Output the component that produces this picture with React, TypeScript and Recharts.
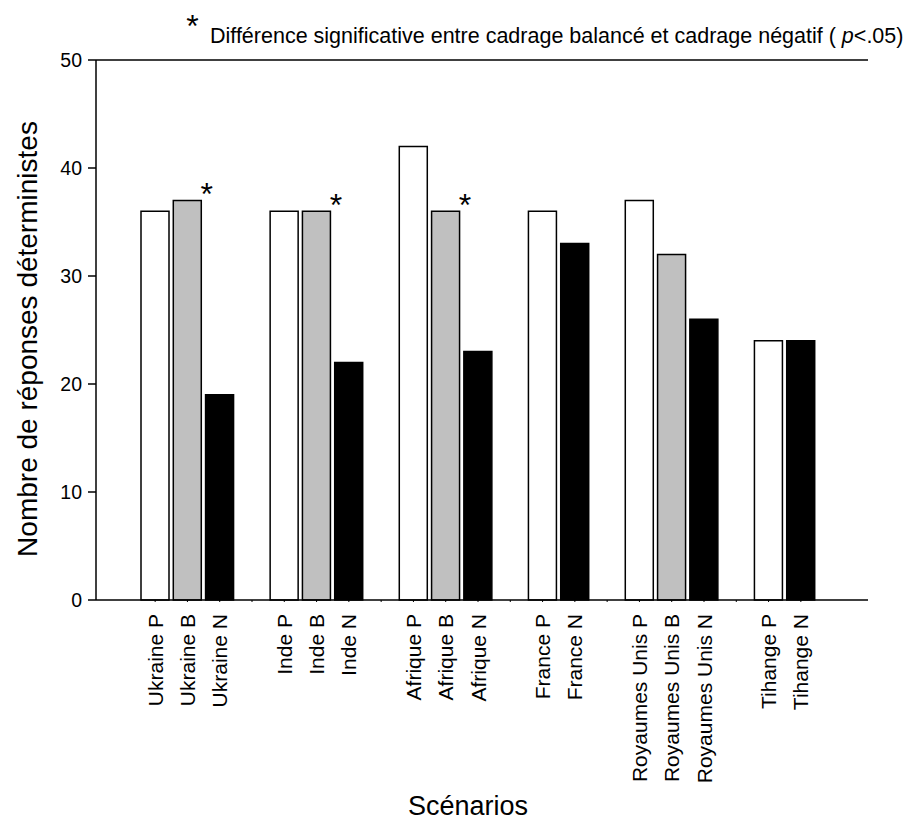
import React from 'react';
import {
  BarChart,
  Bar,
  XAxis,
  YAxis,
  Cell,
  LabelList,
  ReferenceLine,
  Label,
} from 'recharts';

// Scenarios and the number of determinist answers per framing
const scenarios = ['Ukraine', 'Inde', 'Afrique', 'France', 'Royaumes Unis', 'Tihange'];
const framingCodes = ['P', 'B', 'N'];
const positiveValues = [36, 36, 42, 36, 37, 24];
const balancedValues: (number | null)[] = [37, 36, 36, null, 32, null];
const negativeValues = [19, 22, 23, 33, 26, 24];
// Significant difference between balanced and negative framing (p < .05)
const significant = [true, true, true, false, false, false];

const yTicks = [0, 10, 20, 30, 40, 50];
const framingFills: Record<string, string> = { P: '#ffffff', B: '#c0c0c0', N: '#000000' };

const FONT = '"Liberation Sans", Arial, Helvetica, sans-serif';

type Row = { key: string; label: string; value: number | null; framing: string | null; star: number };

// One category per bar, with an empty spacer slot between scenarios
const rows: Row[] = [];
scenarios.forEach((s, i) => {
  const vals = [positiveValues[i], balancedValues[i], negativeValues[i]];
  framingCodes.forEach((code, j) => {
    const v = vals[j];
    if (v === null || v === undefined) return;
    rows.push({
      key: `${s}-${code}`,
      label: `${s} ${code}`,
      value: v,
      framing: code,
      star: code === 'B' && significant[i] ? 1 : 0,
    });
  });
  if (i < scenarios.length - 1) {
    rows.push({ key: `gap-${i}`, label: '', value: null, framing: null, star: 0 });
  }
});

const XTick = (props: any) => {
  const { x, y, payload } = props;
  const row = rows[payload.index];
  if (!row || !row.label) return null;
  return (
    <text
      x={x}
      y={y + 10}
      transform={`rotate(-90, ${x}, ${y + 10})`}
      textAnchor="end"
      dominantBaseline="central"
      fontSize={21}
      fontFamily={FONT}
      fill="#000"
    >
      {row.label}
    </text>
  );
};

// Significance marker drawn just right of the balanced-framing bar top
const Star = (props: any) => {
  const { x, y, width, value } = props;
  if (!value) return null;
  return (
    <text
      x={x + width + 5.5}
      y={y + 5}
      textAnchor="middle"
      fontSize={32}
      fontFamily={FONT}
      fill="#000"
    >
      *
    </text>
  );
};

export default function App() {
  return (
    <div style={{ position: 'absolute', left: 0, top: 0, width: 907, height: 820, background: '#fff' }}>
      <BarChart
        width={907}
        height={820}
        data={rows}
        margin={{ top: 60, right: 39, left: 0, bottom: 0 }}
        barSize={28}
        style={{ position: 'absolute', left: 0, top: 0 }}
      >
        <XAxis
          dataKey="key"
          type="category"
          interval={0}
          padding={{ left: 43, right: 51 }}
          height={220}
          axisLine={{ stroke: '#000', strokeWidth: 1.5 }}
          tickLine={{ stroke: '#000', strokeWidth: 1 }}
          tickSize={2}
          tick={<XTick />}
        >
          <Label
            content={() => (
              <text x={468} y={815} textAnchor="middle" fontSize={27} fontFamily={FONT} fill="#000">
                Scénarios
              </text>
            )}
          />
        </XAxis>
        <YAxis
          yAxisId="left"
          domain={[0, 50]}
          ticks={yTicks}
          width={96}
          axisLine={{ stroke: '#000', strokeWidth: 1.5 }}
          tickLine={{ stroke: '#000', strokeWidth: 1.5 }}
          tickSize={8}
          tickMargin={6}
          tick={{ fontSize: 19.5, fontFamily: FONT, fill: '#000' }}
        >
          <Label
            content={() => (
              <text
                x={27}
                y={339}
                transform="rotate(-90, 27, 339)"
                textAnchor="middle"
                dominantBaseline="central"
                fontSize={28}
                fontFamily={FONT}
                fill="#000"
              >
                Nombre de réponses déterministes
              </text>
            )}
          />
        </YAxis>
        <YAxis
          yAxisId="right"
          orientation="right"
          domain={[0, 50]}
          width={0}
          tick={false}
          tickLine={false}
          axisLine={{ stroke: '#000', strokeWidth: 1.5 }}
        />
        <ReferenceLine yAxisId="left" y={50} stroke="#000" strokeWidth={1.5} />
        <Bar
          yAxisId="left"
          dataKey="value"
          stroke="#000"
          strokeWidth={1.5}
          isAnimationActive={false}
        >
          {rows.map((r) => (
            <Cell key={r.key} fill={r.framing ? framingFills[r.framing] : 'none'} />
          ))}
          <LabelList dataKey="star" content={<Star />} />
        </Bar>
      </BarChart>
      <svg
        width={907}
        height={60}
        style={{ position: 'absolute', left: 0, top: 0, pointerEvents: 'none' }}
      >
        <text x={192.5} y={37} textAnchor="middle" fontSize={32} fontFamily={FONT} fill="#000">
          *
        </text>
        <text x={210} y={43} fontSize={21.5} fontFamily={FONT} fill="#000" xmlSpace="preserve">
          {'Différence significative entre cadrage balancé et cadrage négatif ( '}
          <tspan fontStyle="italic">p</tspan>
          {'<.05)'}
        </text>
      </svg>
    </div>
  );
}
